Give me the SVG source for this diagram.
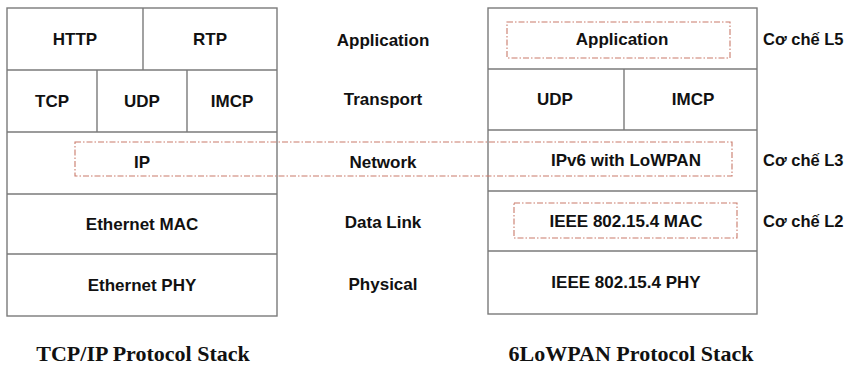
<svg xmlns="http://www.w3.org/2000/svg" width="845" height="370" viewBox="0 0 845 370">
<style>
.cell{fill:#fff;stroke:#7a7a7a;stroke-width:1.4}
.t{font-family:"Liberation Sans",Arial,sans-serif;font-weight:bold;font-size:17px;fill:#111;text-anchor:middle}
.m{font-family:"Liberation Sans",Arial,sans-serif;font-weight:bold;font-size:16.5px;fill:#111}
.cap{font-family:"Liberation Serif","Times New Roman",serif;font-weight:bold;font-size:22px;fill:#111;text-anchor:middle}
.dash{fill:none;stroke:#c97a6a;stroke-width:1.1;stroke-dasharray:6 2 1.5 2}
</style>
<rect width="845" height="370" fill="#fff"/>
<g id="tcpip-stack">
  <rect class="cell" x="7" y="8" width="270" height="308"/>
  <line class="cell" x1="7" y1="70" x2="277" y2="70"/>
  <line class="cell" x1="7" y1="132" x2="277" y2="132"/>
  <line class="cell" x1="7" y1="194" x2="277" y2="194"/>
  <line class="cell" x1="7" y1="254" x2="277" y2="254"/>
  <line class="cell" x1="143" y1="8" x2="143" y2="70"/>
  <line class="cell" x1="97" y1="70" x2="97" y2="132"/>
  <line class="cell" x1="187" y1="70" x2="187" y2="132"/>
  <text class="t" x="75" y="45">HTTP</text>
  <text class="t" x="210" y="45">RTP</text>
  <text class="t" x="52" y="107">TCP</text>
  <text class="t" x="142" y="107">UDP</text>
  <text class="t" x="232" y="107">IMCP</text>
  <text class="t" x="142" y="168">IP</text>
  <text class="t" x="142" y="230">Ethernet MAC</text>
  <text class="t" x="142" y="291">Ethernet PHY</text>
</g>
<g id="osi-layers">
  <text class="t" x="383" y="46">Application</text>
  <text class="t" x="383" y="105">Transport</text>
  <text class="t" x="383" y="168">Network</text>
  <text class="t" x="383" y="228">Data Link</text>
  <text class="t" x="383" y="290">Physical</text>
</g>
<g id="lowpan-stack">
  <rect class="cell" x="488" y="8" width="269" height="306"/>
  <line class="cell" x1="488" y1="69" x2="757" y2="69"/>
  <line class="cell" x1="488" y1="130" x2="757" y2="130"/>
  <line class="cell" x1="488" y1="191" x2="757" y2="191"/>
  <line class="cell" x1="488" y1="251" x2="757" y2="251"/>
  <line class="cell" x1="624" y1="69" x2="624" y2="130"/>
  <text class="t" x="622" y="45">Application</text>
  <text class="t" x="555" y="105">UDP</text>
  <text class="t" x="693" y="105">IMCP</text>
  <text class="t" x="626" y="166">IPv6 with LoWPAN</text>
  <text class="t" x="626" y="227">IEEE 802.15.4 MAC</text>
  <text class="t" x="626" y="288">IEEE 802.15.4 PHY</text>
</g>
<g id="mechanisms">
  <rect class="dash" x="507" y="22" width="223" height="36"/>
  <rect class="dash" x="75" y="142" width="657" height="34"/>
  <rect class="dash" x="514" y="203" width="223" height="35"/>
  <text class="m" x="763" y="45">Cơ chế L5</text>
  <text class="m" x="763" y="166">Cơ chế L3</text>
  <text class="m" x="763" y="227">Cơ chế L2</text>
</g>
<g id="captions">
  <text class="cap" x="143" y="361">TCP/IP Protocol Stack</text>
  <text class="cap" x="631" y="361">6LoWPAN Protocol Stack</text>
</g>
</svg>
